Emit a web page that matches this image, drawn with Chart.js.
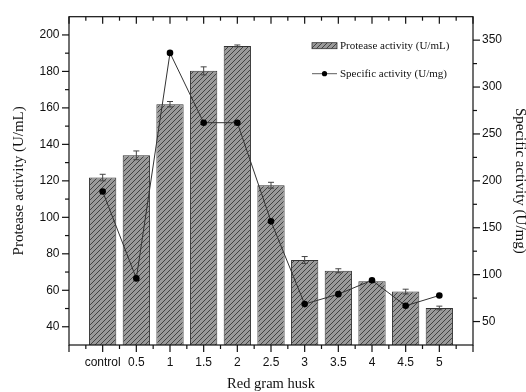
<!DOCTYPE html>
<html>
<head>
<meta charset="utf-8">
<script src="https://cdn.jsdelivr.net/npm/chart.js@4.4.1/dist/chart.umd.min.js"></script>
<style>
  body { margin: 0; background: #fff; }
  #wrap { width: 526px; height: 392px; }
</style>
</head>
<body>
<div id="wrap"><canvas id="chart" width="526" height="392"></canvas></div>
<script>
// values
var categories = ['control', '0.5', '1', '1.5', '2', '2.5', '3', '3.5', '4', '4.5', '5'];
var proteaseActivity = [121.8, 134, 162, 180.3, 194, 117.6, 76.6, 70.7, 65, 59.3, 50.3];
var proteaseError = [1.8, 2.4, 1.5, 2.2, 0.5, 1.6, 1.9, 1.1, 0.6, 1.3, 1.0];
var specificActivity = [188.7, 96, 336.4, 262, 262, 156.8, 68.6, 79.2, 94, 66.8, 77.8];
var leftTicks = [40, 60, 80, 100, 120, 140, 160, 180, 200];
var rightTicks = [50, 100, 150, 200, 250, 300, 350];

// one empty slot each side so the axis runs a full step past the first/last bar
var labels = [''].concat(categories, ['']);
function pad(arr) { return [null].concat(arr, [null]); }

var canvas = document.getElementById('chart');
var ctx = canvas.getContext('2d');

//diagonal hatch used for the bars
function makeHatch() {
  var c = document.createElement('canvas');
  c.width = 5; c.height = 5;
  var h = c.getContext('2d');
  h.fillStyle = '#9a9a9a';
  h.fillRect(0, 0, 5, 5);
  h.strokeStyle = '#383838';
  h.lineWidth = 0.9;
  h.beginPath();
  h.moveTo(-1, 6); h.lineTo(6, -1);
  h.moveTo(-1, 1); h.lineTo(1, -1);
  h.moveTo(4, 6); h.lineTo(6, 4);
  h.stroke();
  return ctx.createPattern(c, 'repeat');
}
var hatch = makeHatch();

function seg(c, x1, y1, x2, y2) {
  c.beginPath(); c.moveTo(x1, y1); c.lineTo(x2, y2); c.stroke();
}

var framePlugin = {
  id: 'frame',
  afterDatasetDraw: function(chart, args) {
    if (args.index !== 0) return;
    // error bars on top of the bars, under the line
    var c = chart.ctx, xs = chart.scales.x, ys = chart.scales.y;
    c.save();
    c.strokeStyle = '#444';
    c.lineWidth = 1;
    proteaseActivity.forEach(function(v, i) {
      var px = xs.getPixelForValue(i + 1);
      var t = ys.getPixelForValue(v + proteaseError[i]);
      var b = ys.getPixelForValue(v - proteaseError[i]);
      seg(c, px, t, px, b);
      seg(c, px - 3, t, px + 3, t);
      seg(c, px - 3, b, px + 3, b);
    });
    c.restore();
  },
  afterDraw: function(chart) {
    var c = chart.ctx, a = chart.chartArea;
    var xs = chart.scales.x, ys = chart.scales.y, yr = chart.scales.y1;
    c.save();
    c.strokeStyle = '#111';
    c.lineWidth = 1.2;
    c.strokeRect(a.left, a.top, a.right - a.left, a.bottom - a.top);

    // x ticks: out at the bottom, in at the top
    for (var i = 0; i < labels.length; i++) {
      var px = xs.getPixelForValue(i);
      seg(c, px, a.bottom, px, a.bottom + 7);
      seg(c, px, a.top, px, a.top + 7);
      if (i < labels.length - 1) {
        var mx = xs.getPixelForValue(i + 0.5);
        seg(c, mx, a.bottom, mx, a.bottom + 4);
        seg(c, mx, a.top, mx, a.top + 4);
      }
    }
    // left ticks
    leftTicks.forEach(function(v) {
      var py = ys.getPixelForValue(v);
      seg(c, a.left - 7, py, a.left, py);
      if (v < 200) {
        var my = ys.getPixelForValue(v + 10);
        seg(c, a.left - 4, my, a.left, my);
      }
    });
    // right ticks
    rightTicks.forEach(function(v) {
      var py = yr.getPixelForValue(v);
      seg(c, a.right, py, a.right + 7, py);
      if (v < 350) {
        var my = yr.getPixelForValue(v + 25);
        seg(c, a.right, my, a.right + 4, my);
      }
    });

    // legend, top right inside the plot
    var ds = chart.data.datasets;
    var lx = a.right - 161, ly = a.top + 29, ly2 = ly + 28;
    c.fillStyle = hatch;
    c.fillRect(lx, ly - 3, 25, 6);
    c.lineWidth = 0.8;
    c.strokeStyle = '#333';
    c.strokeRect(lx, ly - 3, 25, 6);
    seg(c, lx, ly2, lx + 25, ly2);
    c.fillStyle = '#000';
    c.beginPath(); c.arc(lx + 12.5, ly2, 2.6, 0, Math.PI * 2); c.fill();
    c.font = '11px "Liberation Serif", "Times New Roman", serif';
    c.fillStyle = '#111';
    c.textBaseline = 'middle';
    c.textAlign = 'left';
    c.fillText(ds[0].label, lx + 28, ly);
    c.fillText(ds[1].label, lx + 28, ly2);
    c.restore();
  }
};

Chart.defaults.font.family = '"Liberation Sans", Arial, sans-serif';
Chart.defaults.color = '#111';

var serif = '"Liberation Serif", "Times New Roman", serif';

var chart = new Chart(ctx, {
  type: 'bar',
  data: {
    labels: labels,
    datasets: [{
      type: 'bar',
      label: 'Protease activity (U/mL)',
      data: pad(proteaseActivity),
      yAxisID: 'y',
      backgroundColor: hatch,
      borderColor: '#333',
      borderWidth: 1,
      barPercentage: 0.81,
      categoryPercentage: 1,
      order: 2
    }, {
      type: 'line',
      label: 'Specific activity (U/mg)',
      data: pad(specificActivity),
      yAxisID: 'y1',
      borderColor: '#333',
      borderWidth: 1,
      pointRadius: 3.3,
      pointBackgroundColor: '#000',
      pointBorderColor: '#000',
      pointBorderWidth: 0,
      tension: 0,
      order: 1
    }]
  },
  options: {
    responsive: false,
    animation: false,
    events: [],
    layout: { padding: { top: 16, left: 0, right: 0, bottom: 0 } },
    plugins: { legend: { display: false }, tooltip: { enabled: false } },
    scales: {
      x: {
        type: 'category',
        offset: false,
        grid: { display: false, drawTicks: false },
        border: { display: false },
        ticks: { autoSkip: false, maxRotation: 0, padding: 10, font: { size: 12 } },
        title: { display: true, text: 'Red gram husk', font: { family: serif, size: 14.5 }, padding: { top: 0, bottom: -1 } },
        afterFit: function(s) { s.height = 47; }
      },
      y: {
        position: 'left',
        min: 30, max: 210,
        afterBuildTicks: function(s) { s.ticks = leftTicks.map(function(v) { return { value: v }; }); },
        grid: { display: false, drawTicks: false },
        border: { display: false },
        ticks: { padding: 9.5, font: { size: 12 } },
        title: { display: true, text: 'Protease activity (U/mL)', font: { family: serif, size: 15 }, padding: { top: 10, bottom: 0 } },
        afterFit: function(s) { s.width = 69; }
      },
      y1: {
        position: 'right',
        min: 25, max: 375,
        afterBuildTicks: function(s) { s.ticks = rightTicks.map(function(v) { return { value: v }; }); },
        grid: { display: false, drawTicks: false },
        border: { display: false },
        ticks: { padding: 9, font: { size: 12 } },
        title: { display: true, text: 'Specific activity (U/mg)', font: { family: serif, size: 15 }, padding: { top: -3, bottom: 0 } },
        afterFit: function(s) { s.width = 53; }
      }
    }
  },
  plugins: [framePlugin]
});
</script>
</body>
</html>
